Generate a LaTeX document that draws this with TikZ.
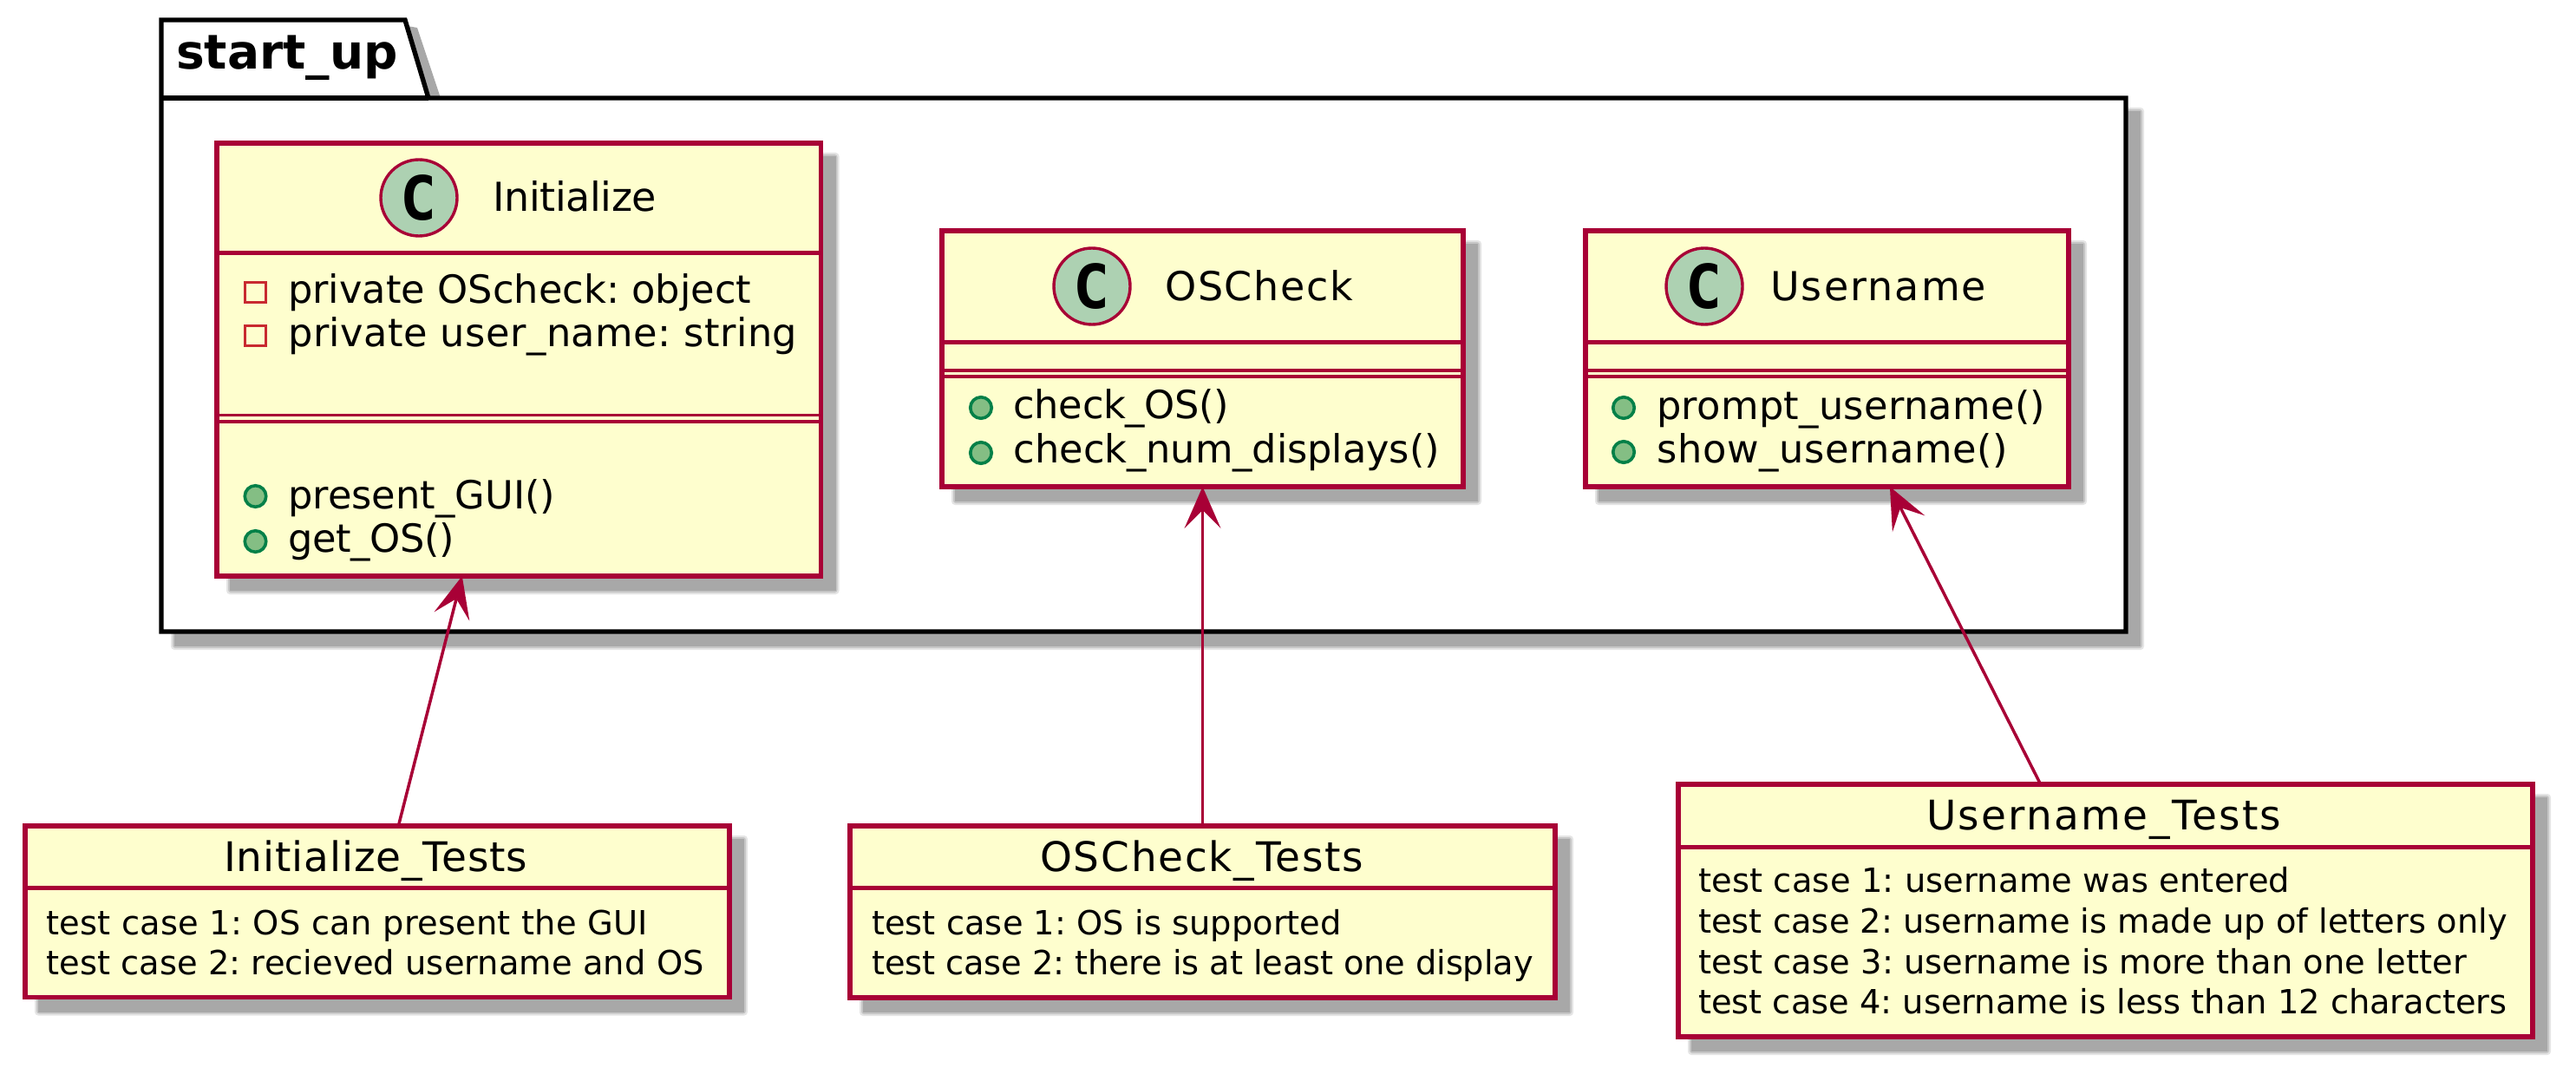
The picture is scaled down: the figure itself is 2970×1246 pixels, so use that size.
\documentclass[tikz,border=0pt]{standalone}
\usepackage{fontspec}
\setmainfont{DejaVu Sans}
\setmonofont{DejaVu Sans Mono}
\usetikzlibrary{arrows.meta,calc}
\definecolor{bordr}{HTML}{A80036}
\definecolor{bgc}{HTML}{FEFECE}
\definecolor{cfill}{HTML}{ADD1B2}
\definecolor{shad}{HTML}{A8A8A8}
\definecolor{privc}{HTML}{C82930}
\definecolor{pubb}{HTML}{038048}
\definecolor{pubf}{HTML}{84BE84}
\newcommand{\pxfont}[1]{\fontsize{#1}{#1}\selectfont}
\newdimen\fitem
\newdimen\fitwd
% \fitw{target width}{number of characters}{text}: letter-spaces the text to the target width
\newcommand{\fitw}[3]{\frenchspacing\sbox0{#3}\fitwd=\wd0 \fitem=1em
  \pgfmathsetmacro\lsval{(#1-\the\fitwd)/(#2-1)/\the\fitem*100}%
  \edef\fitcmd{\noexpand\addfontfeature{LetterSpace=\lsval}}\fitcmd #3}
\newcommand{\softshadow}[4]{%
  \fill[shad,opacity=.3,rounded corners=4pt] (#1+11,#2+11) rectangle (#3+21,#4+21);
  \fill[shad,opacity=.5,rounded corners=3pt] (#1+13,#2+13) rectangle (#3+19,#4+19);
  \fill[shad] (#1+15,#2+15) rectangle (#3+17,#4+17);
}
\tikzset{
  x=1pt,y=-1pt,
  boxstyle/.style={draw=bordr,fill=bgc,line width=5.4pt,minimum width=#1,inner sep=0pt,outer sep=0pt},
  headsep/.style={draw=bordr,line width=5pt},
  thinsep/.style={draw=bordr,line width=3.4pt},
  titlet/.style={anchor=base west,inner sep=0pt,font=\pxfont{46}},
  membert/.style={anchor=base west,inner sep=0pt,font=\pxfont{44.7}},
  objtitle/.style={anchor=base west,inner sep=0pt,font=\pxfont{47}},
  bodyt/.style={anchor=base west,inner sep=0pt,font=\pxfont{38.4}},
  privm/.style={draw=privc,line width=3pt,fill=none,minimum size=23.5pt,inner sep=0pt},
  pubm/.style={circle,draw=pubb,line width=3.6pt,fill=pubf,minimum size=24.5pt,inner sep=0pt},
  cmark/.style={circle,draw=bordr,fill=cfill,line width=3.4pt,inner sep=0pt,minimum size=88pt},
  conn/.style={draw=bordr,line width=3.5pt,{Stealth[length=48pt,width=42pt,inset=21pt,line width=0pt,color=bordr]}-},
}
\newcommand{\cglyph}[1]{\node[inner sep=0pt,anchor=center,font=\pxfont{70}\bfseries\ttfamily] at (#1) {C};}
\begin{document}
\begin{tikzpicture}
\useasboundingbox (0,0) rectangle (2970,1246);
% package shadow
\softshadow{186}{113}{2451}{728}
\fill[shad] (470,30) -- (497,113) -- (508,113) -- (481,32) -- cycle;
\draw[black,line width=5.4pt,fill=white,line join=miter]
  (186,728) -- (186,23) -- (467,23) -- (494,113) -- (2451,113) -- (2451,728) -- cycle;
\draw[black,line width=5.4pt] (186,113) -- (494,113);
\node[anchor=base west,inner sep=0pt,font=\pxfont{55}\bfseries] (pkg) at (203,80) {start\_up};
% Initialize
\softshadow{250}{165}{946.5}{664}
\node[boxstyle=696.5pt,minimum height=499pt] (init) at (598.25,414.5) {};
\draw[headsep] (250,292) -- (946.5,292);
\draw[thinsep] (250,478.5) -- (946.5,478.5);
\draw[thinsep] (250,486) -- (946.5,486);
\node[cmark] (cinit) at (483,228) {};
\cglyph{483,228}
\node[titlet] (tinit) at (568,244) {\fitw{189}{10}{Initialize}};
\node[privm] (m1) at (294.5,337) {};
\node[privm] (m2) at (294.5,387) {};
\node[membert] (l1) at (332,349) {\fitw{534}{23}{private OScheck: object}};
\node[membert] (l2) at (332,399) {\fitw{588}{25}{private user\_name: string}};
\node[pubm] (m3) at (294.5,572) {};
\node[pubm] (m4) at (294.5,624) {};
\node[membert] (l3) at (332,586) {\fitw{308}{13}{present\_GUI()}};
\node[membert] (l4) at (332,636) {\fitw{192}{8}{get\_OS()}};
% OSCheck
\softshadow{1086}{266}{1687}{561}
\node[boxstyle=601pt,minimum height=295pt] (osc) at (1386.5,413.5) {};
\draw[headsep] (1086,394) -- (1687,394);
\draw[thinsep] (1086,427) -- (1687,427);
\draw[thinsep] (1086,434) -- (1687,434);
\node[cmark] (cosc) at (1259,330) {};
\cglyph{1259,330}
\node[titlet] (tosc) at (1343,346) {\fitw{217}{7}{OSCheck}};
\node[pubm] (m5) at (1131,470) {};
\node[pubm] (m6) at (1131,522) {};
\node[membert] (l5) at (1168.6,482) {\fitw{248}{10}{check\_OS()}};
\node[membert] (l6) at (1168.6,533) {\fitw{491}{20}{check\_num\_displays()}};
% Username
\softshadow{1828}{266}{2385}{561}
\node[boxstyle=557pt,minimum height=295pt] (usr) at (2106.5,413.5) {};
\draw[headsep] (1828,394) -- (2385,394);
\draw[thinsep] (1828,427) -- (2385,427);
\draw[thinsep] (1828,434) -- (2385,434);
\node[cmark] (cusr) at (1965,330) {};
\cglyph{1965,330}
\node[titlet] (tusr) at (2041,346) {\fitw{249}{8}{Username}};
\node[pubm] (m7) at (1872,470) {};
\node[pubm] (m8) at (1872,521) {};
\node[membert] (l7) at (1910,483) {\fitw{448}{17}{prompt\_username()}};
\node[membert] (l8) at (1910,533) {\fitw{405}{15}{show\_username()}};
% Initialize_Tests
\softshadow{29}{952}{841}{1149.5}
\node[boxstyle=812pt,minimum height=197.5pt] (initT) at (435,1050.75) {};
\draw[headsep] (29,1023) -- (841,1023);
\node[objtitle] (ti) at (258,1004) {\fitw{350}{16}{Initialize\_Tests}};
\node[bodyt] (b1) at (53,1077) {\fitw{696}{35}{test case 1: OS can present the GUI}};
\node[bodyt] (b2) at (53,1123) {\fitw{759}{37}{test case 2: recieved username and OS}};
% OSCheck_Tests
\softshadow{980}{952}{1793}{1150}
\node[boxstyle=813pt,minimum height=198pt] (oscT) at (1386.5,1051) {};
\draw[headsep] (980,1023) -- (1793,1023);
\node[objtitle] (to) at (1199,1004) {\fitw{373}{13}{OSCheck\_Tests}};
\node[bodyt] (b3) at (1005,1077) {\fitw{542}{28}{test case 1: OS is supported}};
\node[bodyt] (b4) at (1005,1123) {\fitw{761}{42}{test case 2: there is at least one display}};
% Username_Tests
\softshadow{1935}{904}{2920}{1195}
\node[boxstyle=985pt,minimum height=291pt] (usrT) at (2427.5,1049.5) {};
\draw[headsep] (1935,976) -- (2920,976);
\node[objtitle] (tu) at (2221,956) {\fitw{409}{14}{Username\_Tests}};
\node[bodyt] (b5) at (1958,1028) {\fitw{683}{33}{test case 1: username was entered}};
\node[bodyt] (b6) at (1958,1075) {\fitw{933}{48}{test case 2: username is made up of letters only}};
\node[bodyt] (b7) at (1958,1122) {\fitw{887}{46}{test case 3: username is more than one letter}};
\node[bodyt] (b8) at (1958,1168) {\fitw{932}{48}{test case 4: username is less than 12 characters}};
% connectors
\draw[conn] ($(init.south west)!.406!(init.south east)$) -- ($(initT.north west)!.53!(initT.north east)$);
\draw[conn] (osc.south) -- (oscT.north);
\draw[conn] ($(usr.south west)!.63!(usr.south east)$) -- ($(usrT.north west)!.424!(usrT.north east)$);
\end{tikzpicture}
\end{document}
